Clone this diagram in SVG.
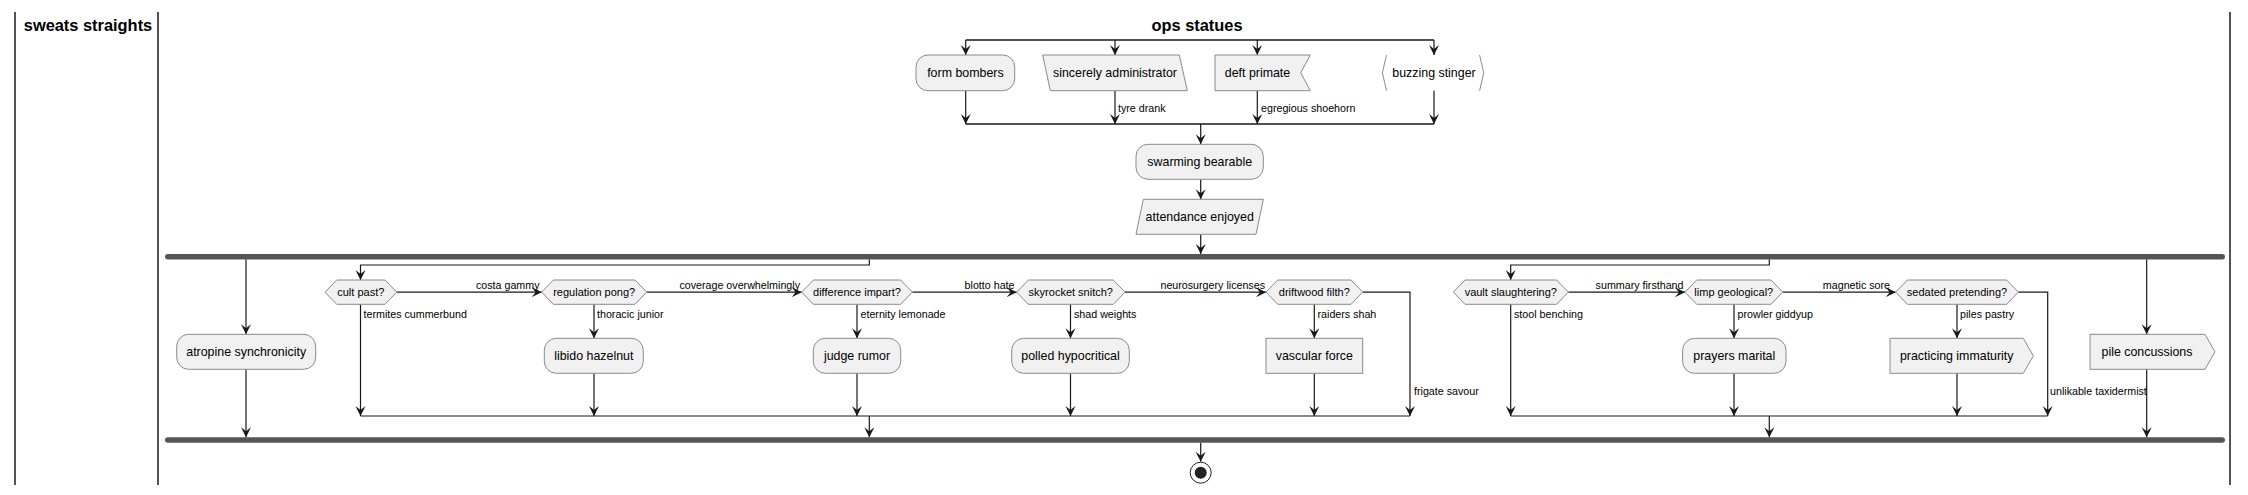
<svg xmlns="http://www.w3.org/2000/svg" width="2248" height="495" viewBox="0 0 2248 495">
<style>
text{font-family:"Liberation Sans",Arial,sans-serif;fill:#000}
.title{font-size:16.4px;font-weight:bold;text-anchor:middle}
.nt{font-size:12.4px;text-anchor:middle}
.dt{font-size:11px;text-anchor:middle}
.lbl{font-size:10.7px}
.end{text-anchor:end}
.node{fill:#F1F1F1;stroke:#8a8a8a;stroke-width:1}
.brk{fill:none;stroke:#8a8a8a;stroke-width:1}
.edge{fill:none;stroke:#181818;stroke-width:1.2}
.arr{marker-end:url(#ah)}
.bar{fill:#555555}
.lane{stroke:#181818;stroke-width:1.5}
</style>
<defs>
<marker id="ah" markerUnits="userSpaceOnUse" markerWidth="12" markerHeight="12" refX="10" refY="5" orient="auto">
<path d="M0,0 L10,5 L0,10 L4,5 Z" fill="#181818"/>
</marker>
</defs>
<rect width="2248" height="495" fill="#ffffff"/>
<g id="lanes">
<line class="lane" x1="15" y1="12" x2="15" y2="485"/>
<line class="lane" x1="158" y1="12" x2="158" y2="485"/>
<line class="lane" x1="2230" y1="12" x2="2230" y2="485"/>
<text class="title" x="88" y="31">sweats straights</text>
<text class="title" x="1197" y="31">ops statues</text>
</g>
<g id="connectors">
<path class="edge" style="stroke-width:1.5" d="M965.7,40 H1434"/>
<path class="edge arr" d="M965.7,40 V55"/>
<path class="edge arr" d="M1115,40 V55"/>
<path class="edge arr" d="M1257.3,40 V55"/>
<path class="edge arr" d="M1434,40 V55"/>
<path class="edge arr" d="M965.7,90.7 V124"/>
<path class="edge arr" d="M1115,90.7 V124"/>
<path class="edge arr" d="M1257.3,90.7 V124"/>
<path class="edge arr" d="M1434,90.7 V124"/>
<path class="edge" style="stroke-width:1.5" d="M965.7,124 H1434"/>
<path class="edge arr" d="M1200.7,124 V144.3"/>
<path class="edge arr" d="M1200.7,179.3 V199.3"/>
<path class="edge arr" d="M1200.7,234.3 V254"/>
<path class="edge arr" d="M246,259.3 V334.3"/>
<path class="edge arr" d="M869.3,259.3 V265 H360.5 V280"/>
<path class="edge arr" d="M1769.3,259.3 V265 H1510.7 V280"/>
<path class="edge arr" d="M2146.7,259.3 V334.3"/>
<path class="edge arr" d="M396.7,292.2 H541.7"/>
<path class="edge arr" d="M360.5,304.3 V416"/>
<path class="edge arr" d="M646.7,292.2 H801.7"/>
<path class="edge arr" d="M594,304.3 V338.3"/>
<path class="edge arr" d="M594,373.3 V416"/>
<path class="edge arr" d="M912.3,292.2 H1016.7"/>
<path class="edge arr" d="M857,304.3 V338.3"/>
<path class="edge arr" d="M857,373.3 V416"/>
<path class="edge arr" d="M1125,292.2 H1266"/>
<path class="edge arr" d="M1070.5,304.3 V338.3"/>
<path class="edge arr" d="M1070.5,373.3 V416"/>
<path class="edge arr" d="M1362.7,292.2 H1410 V416"/>
<path class="edge arr" d="M1314.3,304.3 V338.3"/>
<path class="edge arr" d="M1314.3,373.3 V416"/>
<path class="edge" d="M360.5,416 H1410"/>
<path class="edge arr" d="M869.3,416 V437.3"/>
<path class="edge arr" d="M1568.3,292.2 H1685"/>
<path class="edge arr" d="M1510.7,304.3 V416"/>
<path class="edge arr" d="M1782.7,292.2 H1895.7"/>
<path class="edge arr" d="M1734,304.3 V338.3"/>
<path class="edge arr" d="M1734,373.3 V416"/>
<path class="edge arr" d="M1957,304.3 V338.3"/>
<path class="edge arr" d="M1957,373.3 V416"/>
<path class="edge arr" d="M2018.3,292.2 H2047.7 V416"/>
<path class="edge" d="M1510.7,416 H2047.7"/>
<path class="edge arr" d="M1769.3,416 V437.3"/>
<path class="edge arr" d="M246,369.3 V437.3"/>
<path class="edge arr" d="M2146.7,369.3 V437.3"/>
<path class="edge arr" d="M1200.7,442.7 V461.7"/>
<text class="lbl" x="1118" y="111.7">tyre drank</text>
<text class="lbl" x="1261" y="111.7">egregious shoehorn</text>
<text class="lbl end" x="539.5" y="289">costa gammy</text>
<text class="lbl" x="363.5" y="317.5">termites cummerbund</text>
<text class="lbl end" x="800" y="289">coverage overwhelmingly</text>
<text class="lbl" x="597" y="317.5">thoracic junior</text>
<text class="lbl end" x="1014.5" y="289">blotto hate</text>
<text class="lbl" x="860.5" y="317.5">eternity lemonade</text>
<text class="lbl end" x="1265" y="289">neurosurgery licenses</text>
<text class="lbl" x="1074" y="317.5">shad weights</text>
<text class="lbl" x="1317.5" y="317.5">raiders shah</text>
<text class="lbl" x="1414" y="395">frigate savour</text>
<text class="lbl end" x="1683.5" y="289">summary firsthand</text>
<text class="lbl" x="1514" y="317.5">stool benching</text>
<text class="lbl end" x="1890" y="289">magnetic sore</text>
<text class="lbl" x="1737.5" y="317.5">prowler giddyup</text>
<text class="lbl" x="1960" y="317.5">piles pastry</text>
<text class="lbl" x="2050" y="395">unlikable taxidermist</text>
</g>
<g id="fork-top">
<rect class="bar" x="165" y="254" width="2060" height="5.5" rx="2.75"/>
</g>
<g id="join-bottom">
<rect class="bar" x="165" y="437.3" width="2060" height="5.5" rx="2.75"/>
</g>
<g id="form-bombers">
<rect class="node" x="916" y="55" width="98.7" height="35.7" rx="12"/>
<text class="nt" x="965.4" y="77.2">form bombers</text>
</g>
<g id="sincerely-administrator">
<polygon class="node" points="1042.7,55 1179.3,55 1187.3,90.7 1050.3,90.7"/>
<text class="nt" x="1115" y="77.2">sincerely administrator</text>
</g>
<g id="deft-primate">
<polygon class="node" points="1215,55 1310.3,55 1300.7,72.8 1310.3,90.7 1215,90.7"/>
<text class="nt" x="1257.5" y="77.2">deft primate</text>
</g>
<g id="buzzing-stinger">
<polyline class="brk" points="1386.5,55 1382.4,72.8 1386.5,90.7"/>
<polyline class="brk" points="1479.6,55 1483.7,72.8 1479.6,90.7"/>
<text class="nt" x="1434" y="77.2">buzzing stinger</text>
</g>
<g id="swarming-bearable">
<rect class="node" x="1136" y="144.3" width="127.3" height="35" rx="12"/>
<text class="nt" x="1199.7" y="166.2">swarming bearable</text>
</g>
<g id="attendance-enjoyed">
<polygon class="node" points="1143.3,199.3 1263.3,199.3 1256,234.3 1136,234.3"/>
<text class="nt" x="1199.7" y="221.2">attendance enjoyed</text>
</g>
<g id="atropine-synchronicity">
<rect class="node" x="176.7" y="334.3" width="139" height="35" rx="12"/>
<text class="nt" x="246.2" y="356.2">atropine synchronicity</text>
</g>
<g id="cult-past">
<polygon class="node" points="325,292.2 336.7,280 385,280 396.7,292.2 385,304.3 336.7,304.3"/>
<text class="dt" x="360.8" y="296">cult past?</text>
</g>
<g id="regulation-pong">
<polygon class="node" points="541.7,292.2 553.4,280 635,280 646.7,292.2 635,304.3 553.4,304.3"/>
<text class="dt" x="594.2" y="296">regulation pong?</text>
</g>
<g id="libido-hazelnut">
<rect class="node" x="544.3" y="338.3" width="99" height="35" rx="12"/>
<text class="nt" x="593.8" y="360.2">libido hazelnut</text>
</g>
<g id="difference-impart">
<polygon class="node" points="801.7,292.2 813.4,280 900.6,280 912.3,292.2 900.6,304.3 813.4,304.3"/>
<text class="dt" x="857" y="296">difference impart?</text>
</g>
<g id="judge-rumor">
<rect class="node" x="813.3" y="338.3" width="87.4" height="35" rx="12"/>
<text class="nt" x="857" y="360.2">judge rumor</text>
</g>
<g id="skyrocket-snitch">
<polygon class="node" points="1016.7,292.2 1028.4,280 1113.3,280 1125,292.2 1113.3,304.3 1028.4,304.3"/>
<text class="dt" x="1070.8" y="296">skyrocket snitch?</text>
</g>
<g id="polled-hypocritical">
<rect class="node" x="1011.7" y="338.3" width="117.6" height="35" rx="12"/>
<text class="nt" x="1070.5" y="360.2">polled hypocritical</text>
</g>
<g id="driftwood-filth">
<polygon class="node" points="1266,292.2 1277.7,280 1351,280 1362.7,292.2 1351,304.3 1277.7,304.3"/>
<text class="dt" x="1314.3" y="296">driftwood filth?</text>
</g>
<g id="vascular-force">
<rect class="node" x="1266" y="338.3" width="96.7" height="35"/>
<text class="nt" x="1314.3" y="360.2">vascular force</text>
</g>
<g id="vault-slaughtering">
<polygon class="node" points="1453.3,292.2 1465,280 1556.6,280 1568.3,292.2 1556.6,304.3 1465,304.3"/>
<text class="dt" x="1510.8" y="296">vault slaughtering?</text>
</g>
<g id="limp-geological">
<polygon class="node" points="1685,292.2 1696.7,280 1771,280 1782.7,292.2 1771,304.3 1696.7,304.3"/>
<text class="dt" x="1733.8" y="296">limp geological?</text>
</g>
<g id="prayers-marital">
<rect class="node" x="1682.6" y="338.3" width="103.4" height="35" rx="12"/>
<text class="nt" x="1734.3" y="360.2">prayers marital</text>
</g>
<g id="sedated-pretending">
<polygon class="node" points="1895.7,292.2 1907.4,280 2006.6,280 2018.3,292.2 2006.6,304.3 1907.4,304.3"/>
<text class="dt" x="1957" y="296">sedated pretending?</text>
</g>
<g id="practicing-immaturity">
<polygon class="node" points="1890,338.3 2023.3,338.3 2033.3,355.8 2023.3,373.3 1890,373.3"/>
<text class="nt" x="1956.7" y="360.2">practicing immaturity</text>
</g>
<g id="pile-concussions">
<polygon class="node" points="2090,334.3 2205,334.3 2215,351.8 2205,369.3 2090,369.3"/>
<text class="nt" x="2147" y="356.2">pile concussions</text>
</g>
<g id="end">
<circle cx="1200.7" cy="472.7" r="10.5" fill="none" stroke="#222222" stroke-width="1"/>
<circle cx="1200.7" cy="472.7" r="6" fill="#222222"/>
</g>
</svg>
